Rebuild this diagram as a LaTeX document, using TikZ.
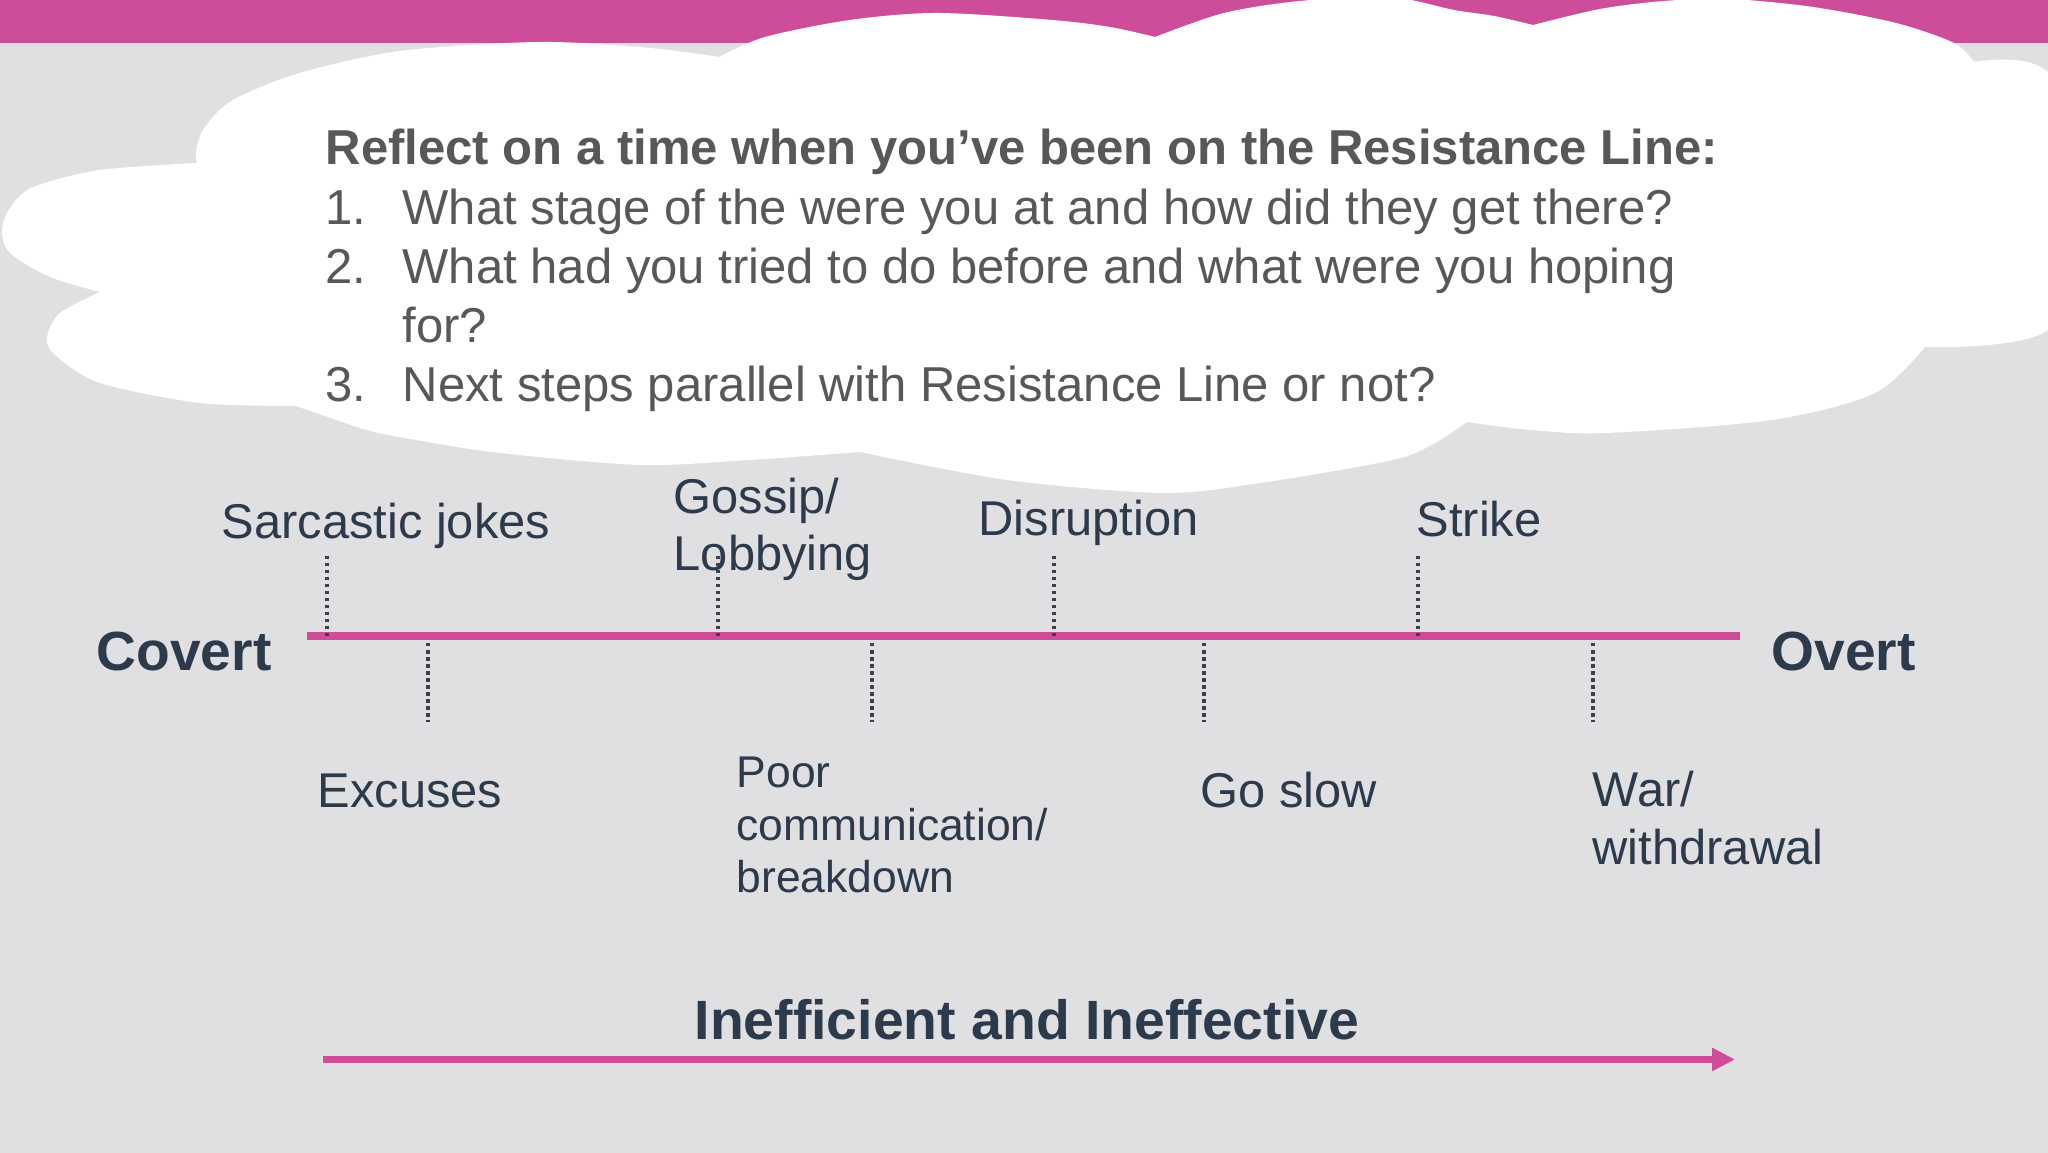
\documentclass[tikz,border=0pt]{standalone}
\usepackage{fontspec}
\setmainfont{Liberation Sans}
\usetikzlibrary{arrows.meta}

\definecolor{slidegrey}{HTML}{E0DFE2}
\definecolor{barpink}{HTML}{CD4D9B}
\definecolor{promptgrey}{HTML}{58585B}
\definecolor{labelnavy}{HTML}{2C3A4B}
\definecolor{tickgrey}{HTML}{3A414C}

\newcommand{\stagetext}[1]{\begin{tabular}[t]{@{}l@{}}#1\end{tabular}}

\begin{document}
\begin{tikzpicture}[
    stage/.style={anchor=base west,inner sep=0,text=labelnavy,font=\fontsize{13.9}{16.2}\selectfont},
    ends/.style={anchor=base west,inner sep=0,text=labelnavy,font=\fontsize{15.7}{18}\selectfont\bfseries},
    prompt/.style={anchor=base west,inner sep=0,text=promptgrey,font=\fontsize{13.95}{16.8}\selectfont},
    resline/.style={barpink,line width=0.08cm},
    tickline/.style={tickgrey,line width=1pt,dash pattern=on 1pt off 1pt}
  ]
  \useasboundingbox (0,0) rectangle (20.48,11.53);
  \fill[slidegrey] (0,0) rectangle (20.48,11.53);
  \fill[barpink] (0,11.10) rectangle (20.48,11.53);

  % cloud, one smooth piece per lobe
  \begin{scope}
    \clip (0,0) rectangle (20.48,11.53);
    \fill[white]
      plot[smooth] coordinates {(1.97,9.90) (1.96,10.03) (2.05,10.26) (2.33,10.53) (3.00,10.80) (4.00,11.02) (5.40,11.11) (6.50,11.05) (7.19,10.96)}
      -- plot[smooth] coordinates {(7.19,10.96) (7.65,11.16) (8.50,11.33) (9.37,11.40) (10.52,11.33) (11.10,11.26) (11.55,11.16)}
      -- plot[smooth] coordinates {(11.55,11.16) (12.24,11.40) (13.00,11.52) (13.90,11.56) (14.54,11.43) (14.94,11.37) (15.33,11.28)}
      -- plot[smooth] coordinates {(15.33,11.28) (16.00,11.44) (16.64,11.52) (17.30,11.54) (18.13,11.46) (18.96,11.30) (19.54,11.10) (19.74,10.91)}
      -- plot[smooth] coordinates {(19.74,10.91) (20.48,10.81) (21.20,9.50) (20.48,8.23) (19.25,8.06)}
      -- plot[smooth] coordinates {(19.25,8.06) (18.75,7.60) (17.72,7.33) (16.07,7.20) (15.30,7.23) (14.67,7.31)}
      -- plot[smooth] coordinates {(14.67,7.31) (14.35,7.10) (13.93,6.93) (12.60,6.70) (11.63,6.60) (10.07,6.73) (8.60,7.01)}
      -- plot[smooth] coordinates {(8.60,7.01) (7.50,6.93) (6.40,6.88) (5.00,7.00) (4.16,7.13) (3.67,7.23) (2.96,7.47)}
      -- plot[smooth] coordinates {(2.96,7.47) (2.00,7.50) (1.00,7.70) (0.55,7.98) (0.47,8.16) (0.60,8.40) (1.00,8.61)}
      -- plot[smooth] coordinates {(1.00,8.61) (0.50,8.76) (0.10,9.00) (0.02,9.23) (0.10,9.45) (0.33,9.66) (1.00,9.83) (1.97,9.90)}
      -- cycle;
  \end{scope}

  \node[prompt] (reflect) at (3.25,9.88) {\begin{tabular}[t]{@{}p{0.77cm}@{}l@{}}
    \multicolumn{2}{@{}l@{}}{\bfseries Reflect on a time when you’ve been on the Resistance Line:}\\
    1. & What stage of the were you at and how did they get there?\\
    2. & What had you tried to do before and what were you hoping\\
       & for?\\
    3. & Next steps parallel with Resistance Line or not?
  \end{tabular}};

  % the resistance line
  \coordinate (covert-end) at (3.07,5.165);
  \coordinate (overt-end) at (17.40,5.165);
  \draw[resline] (covert-end) -- (overt-end);
  \node[ends] (covert) at (0.96,4.82) {Covert};
  \node[ends] (overt) at (17.71,4.82) {Overt};

  % stages above the line
  \node[stage] (sarcastic) at (2.21,6.14) {Sarcastic jokes};
  \node[stage] (gossip) at (6.73,6.39) {\stagetext{Gossip/\\Lobbying}};
  \node[stage] (disruption) at (9.78,6.17) {Disruption};
  \node[stage] (strike) at (14.16,6.16) {Strike};

  % stages below the line
  \node[stage] (excuses) at (3.17,3.45) {Excuses};
  \node[stage,font=\fontsize{12.65}{14.9}\selectfont] (poorcomm) at (7.36,3.65) {\stagetext{Poor\\communication/\\breakdown}};
  \node[stage] (goslow) at (12.00,3.45) {Go slow};
  \node[stage,font=\fontsize{13.9}{16.5}\selectfont] (war) at (15.92,3.46) {\stagetext{War/\\withdrawal}};

  \foreach \x/\n in {3.27/sarcastic,7.18/gossip,10.54/disruption,14.18/strike}
  {
    \coordinate (\n-foot) at (\x,5.165);
    \coordinate (\n-top) at (\x,5.98);
    \draw[tickline] (\n-foot) -- (\n-top);
  }
  \foreach \x/\n in {4.28/excuses,8.72/poorcomm,12.04/goslow,15.93/war}
  {
    \coordinate (\n-foot) at (\x,5.10);
    \coordinate (\n-top) at (\x,4.31);
    \draw[tickline] (\n-foot) -- (\n-top);
  }

  % bottom arrow
  \coordinate (arrow-start) at (3.23,0.935);
  \coordinate (arrow-tip) at (17.35,0.935);
  \draw[resline,line width=2pt,-{Triangle[length=0.23cm,width=0.22cm]}] (arrow-start) -- (arrow-tip);
  \node[ends,font=\fontsize{15.75}{18}\selectfont\bfseries] (ineffective) at (6.94,1.13) {Inefficient and Ineffective};
\end{tikzpicture}
\end{document}
